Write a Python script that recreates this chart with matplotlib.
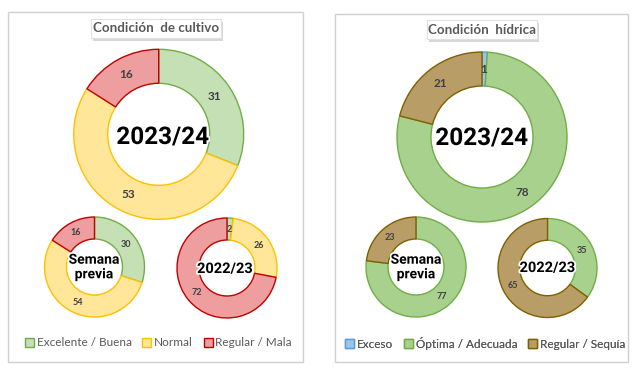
import matplotlib
matplotlib.use("Agg")
import matplotlib.pyplot as plt
from matplotlib import font_manager
from matplotlib.patches import Rectangle, Patch
import matplotlib.patheffects as pe
import numpy as np

# ---- data ----
cultivo_categories = ['Excelente / Buena', 'Normal', 'Regular / Mala']
cultivo_actual = [31, 53, 16]
cultivo_previa = [30, 54, 16]
cultivo_anterior = [2, 26, 72]

hidrica_categories = ['Exceso', 'Óptima / Adecuada', 'Regular / Sequía']
hidrica_actual = [1, 78, 21]
hidrica_previa = [0, 77, 23]
hidrica_anterior = [0, 35, 65]

panel_titles = ['Condición  de cultivo', 'Condición  hídrica']
center_labels = ['2023/24', 'Semana\nprevia', '2022/23']

cultivo_fill = ['#C5E0B4', '#FFE699', '#EE9E9E']
cultivo_edge = ['#70AD47', '#FFC000', '#C00000']
hidrica_fill = ['#9DC3E6', '#A9D18E', '#B99D66']
hidrica_edge = ['#5B9BD5', '#70AD47', '#7F6000']


def pick(fams):
    for f in fams:
        try:
            font_manager.findfont(font_manager.FontProperties(family=f), fallback_to_default=False)
            return f
        except Exception:
            pass
    return 'DejaVu Sans'

cond_font = pick(['Liberation Sans Narrow', 'DejaVu Sans Condensed', 'Roboto'])
ui_font = pick(['Lato', 'Open Sans', 'DejaVu Sans'])

W, H = 640, 368
fig = plt.figure(figsize=(6.4, 3.68), dpi=100)
ax = fig.add_axes([0, 0, 1, 1])


def Y(y):
    return H - y


def donut(vals, fills, edges, cx, cy, r, width, fs):
    v = [x for x in vals if x > 0]
    fc = [c for x, c in zip(vals, fills) if x > 0]
    ec = [c for x, c in zip(vals, edges) if x > 0]
    wedges, _ = ax.pie(v, colors=fc, startangle=90, counterclock=False,
                       center=(cx, Y(cy)), radius=r,
                       wedgeprops=dict(width=r * width, linewidth=1.0))
    for w, e in zip(wedges, ec):
        w.set_edgecolor(e)
    tot = sum(v)
    cum = 0
    rm = r * (1 - width / 2)
    for x in v:
        mid = 90 - (cum + x / 2) / tot * 360
        cum += x
        ax.text(cx + rm * np.cos(np.radians(mid)), Y(cy) + rm * np.sin(np.radians(mid)),
                str(x), ha='center', va='center', fontsize=fs, fontweight='bold',
                color='#404040', family=ui_font)


# panel borders
for (x0, y0, x1, y1) in [(8, 12, 303, 362), (335, 14, 628, 362)]:
    ax.add_patch(Rectangle((x0, Y(y1)), x1 - x0, y1 - y0, fill=False,
                           edgecolor='#D0D0D0', linewidth=1.0))

# title boxes with shadow
for (x0, y0, x1, y1), t in zip([(91, 19, 221, 38), (427, 20, 537, 39)], panel_titles):
    ax.add_patch(Rectangle((x0 + 2, Y(y1 + 3)), x1 - x0, y1 - y0, facecolor='#BFBFBF',
                           edgecolor='none', alpha=0.6))
    ax.add_patch(Rectangle((x0, Y(y1)), x1 - x0, y1 - y0, facecolor='white',
                           edgecolor='#E0E0E0', linewidth=0.8))
    ax.text((x0 + x1) / 2, Y((y0 + y1) / 2), t, ha='center', va='center', fontsize=9.6,
            fontweight='bold', color='#595959', family=ui_font)

# donuts
donut(cultivo_actual, cultivo_fill, cultivo_edge, 158.7, 134.3, 85, 0.40, 8.5)
donut(cultivo_previa, cultivo_fill, cultivo_edge, 94.5, 267, 50, 0.44, 6.5)
donut(cultivo_anterior, cultivo_fill, cultivo_edge, 227, 268, 50, 0.44, 6.5)
donut(hidrica_actual, hidrica_fill, hidrica_edge, 482, 137, 85, 0.40, 8.5)
donut(hidrica_previa, hidrica_fill, hidrica_edge, 416, 267, 50, 0.44, 6.5)
donut(hidrica_anterior, hidrica_fill, hidrica_edge, 547.5, 268, 49.5, 0.44, 6.5)

stroke = [pe.withStroke(linewidth=2.5, foreground='white')]
for (x, y, s, lab) in [(162.5, 137.5, 17.5, center_labels[0]), (94, 267, 10, center_labels[1]),
                       (225, 269, 10.5, center_labels[2]), (481.5, 138.5, 17.5, center_labels[0]),
                       (416, 267, 10, center_labels[1]), (547.5, 268, 10.5, center_labels[2])]:
    ax.text(x, Y(y), lab, ha='center', va='center', fontsize=s, fontweight='bold',
            color='black', family=cond_font, linespacing=1.05, path_effects=stroke)

# legends
for cats, fills, edges, cx in [(cultivo_categories, cultivo_fill, cultivo_edge, 158.5),
                               (hidrica_categories, hidrica_fill, hidrica_edge, 485)]:
    handles = [Patch(facecolor=f, edgecolor=e, linewidth=1.0, label=c)
               for c, f, e in zip(cats, fills, edges)]
    leg = ax.legend(handles=handles, loc='center', bbox_to_anchor=(cx, Y(343)),
                    bbox_transform=ax.transData, ncol=3, frameon=False,
                    handlelength=0.75, handleheight=0.75, handletextpad=0.25,
                    columnspacing=0.9, borderaxespad=0,
                    prop=dict(family=ui_font, size=8.5), labelcolor='#595959')
    ax.add_artist(leg)

ax.set_xlim(0, W)
ax.set_ylim(0, H)
ax.set_aspect('auto')
ax.axis('off')

fig.savefig('out.png', dpi=100, facecolor='white')
